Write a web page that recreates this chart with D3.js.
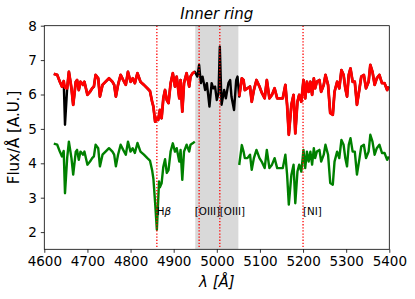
<!DOCTYPE html>
<html>
<head>
<meta charset="utf-8">
<script src="https://cdn.jsdelivr.net/npm/d3@7"></script>
<style>
  body { margin: 0; background: #fff; }
  svg text { font-family: "DejaVu Sans", sans-serif; }
</style>
</head>
<body>
<svg width="415" height="299"></svg>
<script>
// wavelength grid (Å)
var wave = [4622,4630,4636,4641,4645,4648,4653,4657,4663,4667,4673,4676,4680,4684,4690,4693,4700,4706,4711,4715,
  4719,4725,4729,4735,4742,4750,4758,4762,4766,4771,4777,4783,4789,4794,4800,4805,4810,4816,4823,4831,
  4839,4845,4850,4853,4857,4861,4864,4866,4868,4872,4876,4880,4884,4888,4893,4898,4903,4907,4913,4916,
  4920,4924,4930,4936,4939,4944,4949,4955,4959,4963,4967,4973,4977,4983,4988,4992,4996,5000,5004,5007,
  5011,5017,5021,5027,5031,5034,5040,5045,5048,5052,5058,5062,5065,5071,5077,5081,5086,5092,5099,5104,
  5111,5116,5122,5128,5134,5140,5147,5153,5159,5163,5167,5173,5178,5182,5187,5191,5196,5201,5205,5209,
  5213,5217,5221,5225,5228,5232,5238,5242,5248,5252,5258,5263,5269,5273,5279,5284,5289,5294,5298,5302,
  5306,5310,5315,5320,5325,5331,5335,5341,5346,5352,5356,5361,5366,5371,5377,5383,5389,5395,5399];

// observed spectrum (black)
var observed = [6.60,6.57,6.37,6.23,6.39,5.12,6.18,6.66,6.18,5.70,6.37,6.42,6.13,6.37,6.28,6.37,5.99,6.08,6.18,6.23,
  6.57,6.47,5.94,6.28,6.37,6.47,6.37,6.28,5.94,6.28,6.57,6.42,6.28,6.66,6.37,6.47,6.33,6.62,6.37,6.28,
  6.18,6.10,5.79,5.65,5.21,5.31,5.26,5.40,5.55,5.31,5.89,6.13,5.84,5.75,6.33,6.62,6.23,6.52,5.89,6.42,
  5.50,6.33,6.62,6.23,6.52,6.62,6.66,6.52,6.86,6.33,6.52,6.13,6.33,5.65,6.33,6.18,6.23,5.84,6.04,7.39,
  5.70,6.13,5.89,6.33,6.42,5.94,5.55,6.42,6.52,5.94,6.47,6.42,6.13,6.18,6.23,5.79,6.13,6.42,6.23,6.06,
  5.89,6.42,5.89,5.99,6.18,5.89,5.89,5.89,6.28,5.70,4.83,5.70,5.99,4.87,5.79,5.99,5.79,6.42,5.89,6.37,
  6.08,6.37,5.99,6.47,6.18,6.37,6.42,6.08,6.28,6.57,6.28,5.46,5.41,6.08,6.37,6.18,6.71,6.57,6.18,5.94,
  6.57,6.76,6.37,6.37,5.70,6.18,6.52,6.57,6.18,6.37,6.86,6.66,6.28,6.47,6.57,6.33,6.33,6.13,6.23];

// masked spectrum (red), null inside the [OIII] window
var masked = [6.60,6.57,6.37,6.23,6.39,6.20,6.18,6.66,6.18,5.70,6.37,6.42,6.13,6.37,6.28,6.37,5.99,6.08,6.18,6.23,
  6.57,6.47,5.94,6.28,6.37,6.47,6.37,6.28,5.94,6.28,6.57,6.42,6.28,6.66,6.37,6.47,6.33,6.62,6.37,6.28,
  6.18,6.10,5.79,5.65,5.21,5.31,5.26,5.40,5.55,5.31,5.89,6.13,5.84,5.75,6.33,6.62,6.23,6.52,5.89,6.42,
  5.50,6.33,6.62,6.23,6.52,6.62,6.66,null,null,null,null,null,null,null,null,null,null,null,null,null,
  null,null,null,null,null,null,null,null,null,5.94,6.47,6.42,6.13,6.18,6.23,5.79,6.13,6.42,6.23,6.06,
  5.89,6.42,5.89,5.99,6.18,5.89,5.89,5.89,6.28,5.70,4.83,5.70,5.99,4.87,5.79,5.99,5.79,6.42,5.89,6.37,
  6.08,6.37,5.99,6.47,6.18,6.37,6.42,6.08,6.28,6.57,6.28,5.46,5.41,6.08,6.37,6.18,6.71,6.57,6.18,5.94,
  6.57,6.76,6.37,6.37,5.70,6.18,6.52,6.57,6.18,6.37,6.86,6.66,6.28,6.47,6.57,6.33,6.33,6.13,6.23];

// lower spectrum (green)
var lower = [4.57,4.54,4.34,4.20,4.36,3.13,4.15,4.63,4.15,3.67,4.34,4.39,4.10,4.34,4.25,4.34,3.96,4.05,4.15,4.20,
  4.54,4.44,3.91,4.25,4.34,4.44,4.34,4.25,3.91,4.25,4.54,4.39,4.25,4.63,4.34,4.44,4.30,4.59,4.34,4.25,
  4.15,4.08,3.80,3.55,2.85,2.07,2.90,3.47,3.30,3.42,3.90,4.12,3.72,3.80,4.35,4.58,4.34,4.44,4.05,4.39,
  3.52,4.34,4.54,4.34,4.54,4.58,4.63,null,null,null,null,null,null,null,null,null,null,null,null,null,
  null,null,null,null,null,null,null,null,null,3.95,4.53,4.34,4.15,4.15,4.25,3.81,4.15,4.39,4.15,4.05,
  3.86,4.39,3.86,3.96,4.15,3.86,3.86,3.86,4.25,3.67,2.80,3.67,3.96,2.84,3.76,3.96,3.76,4.39,3.86,4.34,
  4.05,4.34,3.96,4.44,4.15,4.34,4.39,4.05,4.25,4.54,4.25,3.43,3.38,4.05,4.34,4.15,4.68,4.54,4.15,3.91,
  4.54,4.73,4.34,4.34,3.67,4.15,4.49,4.54,4.15,4.34,4.83,4.63,4.25,4.44,4.54,4.30,4.30,4.10,4.20];

var lineNames = ["H\u03b2", "[OIII]", "[OIII]", "[NI]"];
var lineWave = [4861, 4959, 5007, 5200];
var labelWave = [4861, 4949, 5007, 5200];
var labelFlux = 2.5;
var bandRange = [4950, 5050];
var xTicks = [4600, 4700, 4800, 4900, 5000, 5100, 5200, 5300, 5400];
var yTicks = [2, 3, 4, 5, 6, 7, 8];

var svg = d3.select("svg"),
    margin = {top: 25.7, right: 25.7, bottom: 49.7, left: 44.3},
    width = 415 - margin.left - margin.right,
    height = 299 - margin.top - margin.bottom,
    g = svg.append("g").attr("transform", "translate(" + margin.left + "," + margin.top + ")");

var x = d3.scaleLinear().domain([4600, 5400]).range([0, width]),
    y = d3.scaleLinear().domain([1.5, 8]).range([height, 0]);

svg.append("defs").append("clipPath").attr("id", "clip")
  .append("rect").attr("width", width).attr("height", height);

var plot = g.append("g").attr("clip-path", "url(#clip)");

// shaded window
plot.append("rect")
  .attr("x", x(bandRange[0]))
  .attr("width", x(bandRange[1]) - x(bandRange[0]))
  .attr("y", 0)
  .attr("height", height)
  .attr("fill", "#808080")
  .attr("fill-opacity", 0.3);

function makeLine(vals) {
  return d3.line()
    .defined(function(d, i) { return vals[i] != null; })
    .x(function(d) { return x(d); })
    .y(function(d, i) { return y(vals[i]); })(wave);
}

plot.append("path").attr("d", makeLine(observed))
  .attr("fill", "none").attr("stroke", "black").attr("stroke-width", 2.4).attr("stroke-linejoin", "round");
plot.append("path").attr("d", makeLine(masked))
  .attr("fill", "none").attr("stroke", "red").attr("stroke-width", 2.8).attr("stroke-linejoin", "round");
plot.append("path").attr("d", makeLine(lower))
  .attr("fill", "none").attr("stroke", "green").attr("stroke-width", 2.4).attr("stroke-linejoin", "round");

// emission line markers
plot.selectAll(".vline").data(lineWave).enter().append("line")
  .attr("x1", function(d) { return x(d); })
  .attr("x2", function(d) { return x(d); })
  .attr("y1", 0).attr("y2", height)
  .attr("stroke", "red")
  .attr("stroke-width", 1.3)
  .attr("stroke-dasharray", "1.3,1.8");

var labels = g.selectAll(".lbl").data(lineNames).enter().append("text")
  .attr("x", function(d, i) { return x(labelWave[i]); })
  .attr("y", y(labelFlux))
  .style("font-size", "10.3px")
  .attr("fill", "black");
labels.each(function(d) {
  var t = d3.select(this);
  if (d === "H\u03b2") {
    t.append("tspan").text("H");
    t.append("tspan").style("font-style", "italic").text("\u03b2");
  } else {
    t.text(d);
  }
});

// axes
var xAxis = g.append("g")
  .attr("transform", "translate(0," + height + ")")
  .call(d3.axisBottom(x).tickValues(xTicks).tickFormat(d3.format("d")).tickSize(3.5).tickPadding(4).tickSizeOuter(0));
var yAxis = g.append("g")
  .call(d3.axisLeft(y).tickValues(yTicks).tickFormat(d3.format("d")).tickSize(3.5).tickPadding(4).tickSizeOuter(0));

[xAxis, yAxis].forEach(function(a) {
  a.select(".domain").remove();
  a.selectAll("line").attr("stroke", "black").attr("stroke-width", 0.8);
  a.selectAll("text").style("font-family", "DejaVu Sans").style("font-size", "13.5px").attr("fill", "black");
});

g.append("rect")
  .attr("width", width).attr("height", height)
  .attr("fill", "none").attr("stroke", "black").attr("stroke-width", 0.8);

g.append("text")
  .attr("x", width / 2).attr("y", -7)
  .attr("text-anchor", "middle")
  .style("font-size", "15px").style("font-style", "italic")
  .text("Inner ring");

g.append("text")
  .attr("x", width / 2).attr("y", height + 37.5)
  .attr("text-anchor", "middle")
  .style("font-size", "15px").style("font-style", "italic")
  .text("\u03bb [\u00c5]");

g.append("text")
  .attr("transform", "translate(" + (19 - margin.left) + "," + (height / 2) + ") rotate(-90)")
  .attr("text-anchor", "middle")
  .style("font-size", "15px")
  .text("Flux/\u00c5 [A.U.]");
</script>
</body>
</html>
